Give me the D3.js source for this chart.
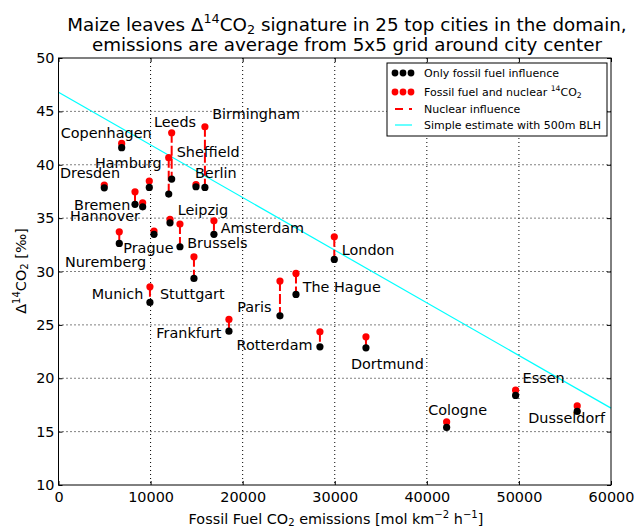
<!DOCTYPE html>
<html>
<head>
<meta charset="utf-8">
<script src="https://cdn.jsdelivr.net/npm/d3@7"></script>
<style>
  body { margin: 0; background: #fff; }
  text { font-family: "DejaVu Sans", "Bitstream Vera Sans", sans-serif; fill: #000; }
</style>
</head>
<body>
<svg id="chart" width="638" height="530"></svg>
<script>
// City list and Δ14CO2 values (‰) at the mean fossil-fuel CO2 emission (mol km-2 h-1)
const cities = ["Copenhagen", "Leeds", "Birmingham", "Sheffield", "Hamburg", "Berlin",
  "Dresden", "Bremen", "Hannover", "Leipzig", "Amsterdam", "Brussels", "Prague",
  "Nuremberg", "Munich", "Stuttgart", "Paris", "The Hague", "London", "Frankfurt",
  "Rotterdam", "Dortmund", "Essen", "Cologne", "Dusseldorf"];
const emissions = [6860, 12290, 15900, 11970, 9860, 14930, 4970, 8310, 9140, 12110,
  16880, 13190, 6600, 10370, 9930, 14710, 24050, 25790, 29950, 18510, 28390, 33390,
  49640, 42150, 56330];
const fossilOnly = [41.60, 38.66, 37.88, 37.25, 37.88, 37.94, 37.84, 36.29, 36.06, 34.56,
  33.48, 32.32, 32.63, 33.48, 27.10, 29.35, 25.85, 27.85, 31.13, 24.41, 22.94, 22.85,
  18.39, 15.39, 16.89];
const fossilNuclear = [42.00, 43.00, 43.56, 40.66, 38.47, 38.14, 38.10, 37.47, 36.44, 34.88,
  34.75, 34.44, 33.72, 33.79, 28.57, 31.38, 29.10, 29.82, 33.25, 25.51, 24.35, 23.88,
  18.88, 15.91, 17.41];

// Simple estimate with 500 m boundary layer height (straight line)
const estimateX = [0, 60000];
const estimateY = [46.8, 17.2];

const xTicks = [0, 10000, 20000, 30000, 40000, 50000, 60000];
const yTicks = [10, 15, 20, 25, 30, 35, 40, 45, 50];

// Label placement: left edge / baseline offset in px from each black marker
const labelOffsets = [[-61, -10], [-17.7, -52.5], [7.3, -68], [8, -36.7], [-54.3, -19.3],
  [-1, -8.7], [-44.3, -9.4], [-61, 5.7], [-72.7, 14.3], [7.7, -7.7], [6.7, -1], [7.3, 1],
  [4, 10], [-89, 32.4], [-58.3, -3], [-34, 21], [-42.7, -4], [6.7, -2.6], [7.4, -4.3],
  [-72.6, 7], [-83.3, 3], [-15, 21.5], [7, -12], [-18.4, -12.3], [-49, 12]];

const svg = d3.select("#chart");
const plotLeft = 58.5, plotRight = 611, plotTop = 58, plotBottom = 485;

const x = d3.scaleLinear().domain([0, 60000]).range([plotLeft, plotRight]);
const y = d3.scaleLinear().domain([10, 50]).range([plotBottom, plotTop]);

const tickFont = 14.4;

// dotted grid
const grid = svg.append("g");
grid.selectAll("line.gx").data(xTicks.slice(1, -1)).join("line")
  .attr("x1", d => x(d)).attr("x2", d => x(d)).attr("y1", plotTop).attr("y2", plotBottom)
  .attr("stroke", "#000").attr("stroke-width", 1).attr("stroke-dasharray", "1,3");
grid.selectAll("line.gy").data(yTicks.slice(1, -1)).join("line")
  .attr("y1", d => y(d)).attr("y2", d => y(d)).attr("x1", plotLeft).attr("x2", plotRight)
  .attr("stroke", "#000").attr("stroke-width", 1).attr("stroke-dasharray", "1,3");

// axes with inward ticks on all four sides
function styleAxis(g) {
  g.select(".domain").remove();
  g.selectAll("text").attr("font-size", tickFont).attr("font-family", "DejaVu Sans");
  g.selectAll(".tick line").attr("stroke", "#000");
}
svg.append("g").attr("transform", `translate(0,${plotBottom})`)
  .call(d3.axisBottom(x).tickValues(xTicks).tickFormat(d3.format("d"))
    .tickSizeInner(-4).tickSizeOuter(0).tickPadding(7))
  .call(styleAxis);
svg.append("g").attr("transform", `translate(0,${plotTop})`)
  .call(d3.axisTop(x).tickValues(xTicks).tickFormat("").tickSizeInner(-4).tickSizeOuter(0))
  .call(styleAxis);
svg.append("g").attr("transform", `translate(${plotLeft},0)`)
  .call(d3.axisLeft(y).tickValues(yTicks).tickFormat(d3.format("d"))
    .tickSizeInner(-4).tickSizeOuter(0).tickPadding(4))
  .call(styleAxis);
svg.append("g").attr("transform", `translate(${plotRight},0)`)
  .call(d3.axisRight(y).tickValues(yTicks).tickFormat("").tickSizeInner(-4).tickSizeOuter(0))
  .call(styleAxis);

// estimate line
svg.append("line")
  .attr("x1", x(estimateX[0])).attr("y1", y(estimateY[0]))
  .attr("x2", x(estimateX[1])).attr("y2", y(estimateY[1]))
  .attr("stroke", "#00FFFF").attr("stroke-width", 1.2);

const idx = d3.range(cities.length);

// nuclear contribution: dashed red segment from nuclear-influenced value down to fossil-only
svg.append("g").selectAll("line").data(idx).join("line")
  .attr("x1", i => x(emissions[i])).attr("x2", i => x(emissions[i]))
  .attr("y1", i => y(fossilNuclear[i])).attr("y2", i => y(fossilOnly[i]))
  .attr("stroke", "#ff0000").attr("stroke-width", 2).attr("stroke-dasharray", "10,3");

svg.append("g").selectAll("circle").data(idx).join("circle")
  .attr("cx", i => x(emissions[i])).attr("cy", i => y(fossilNuclear[i]))
  .attr("r", 3.6).attr("fill", "#ff0000");
svg.append("g").selectAll("circle").data(idx).join("circle")
  .attr("cx", i => x(emissions[i])).attr("cy", i => y(fossilOnly[i]))
  .attr("r", 3.6).attr("fill", "#000");

// frame
svg.append("rect").attr("x", plotLeft).attr("y", plotTop)
  .attr("width", plotRight - plotLeft).attr("height", plotBottom - plotTop)
  .attr("fill", "none").attr("stroke", "#000").attr("stroke-width", 1);

// city labels
svg.append("g").selectAll("text").data(idx).join("text")
  .attr("x", i => x(emissions[i]) + labelOffsets[i][0])
  .attr("y", i => y(fossilOnly[i]) + labelOffsets[i][1])
  .attr("font-size", 14.4)
  .text(i => cities[i]);

// helper for text with super/subscripts: parts = [[text, kind]]
function richText(sel, parts, size) {
  parts.forEach(([t, kind]) => {
    const ts = sel.append("tspan").text(t);
    if (kind === "sup") ts.attr("font-size", size * 0.7).attr("baseline-shift", size * 0.42 + "px");
    else if (kind === "sub") ts.attr("font-size", size * 0.7).attr("baseline-shift", -size * 0.15 + "px");
  });
  return sel;
}

// title
const titleSize = 18.3;
richText(svg.append("text").attr("x", 347).attr("y", 31).attr("text-anchor", "middle")
  .attr("font-size", titleSize),
  [["Maize leaves Δ", ""], ["14", "sup"], ["CO", ""], ["2", "sub"],
   [" signature in 25 top cities in the domain,", ""]], titleSize);
svg.append("text").attr("x", 347).attr("y", 51).attr("text-anchor", "middle")
  .attr("font-size", titleSize)
  .text("emissions are average from 5x5 grid around city center");

// axis titles
richText(svg.append("text").attr("x", 336).attr("y", 524).attr("text-anchor", "middle")
  .attr("font-size", 14.4),
  [["Fossil Fuel CO", ""], ["2", "sub"], [" emissions [mol km", ""], ["−2", "sup"],
   [" h", ""], ["−1", "sup"], ["]", ""]], 14.4);
richText(svg.append("text").attr("transform", "translate(26,271) rotate(-90)")
  .attr("text-anchor", "middle").attr("font-size", 14.4),
  [["Δ", ""], ["14", "sup"], ["CO", ""], ["2", "sub"], [" [‰]", ""]], 14.4);

// legend
const lg = svg.append("g");
lg.append("rect").attr("x", 387).attr("y", 63).attr("width", 220).attr("height", 73)
  .attr("fill", "#fff").attr("stroke", "#000").attr("stroke-width", 1);
const rows = [73, 92, 109, 125];
const legFont = 11;
[0, 1, 2].forEach(k => {
  lg.append("circle").attr("cx", 395 + k * 8).attr("cy", rows[0]).attr("r", 3.4).attr("fill", "#000");
  lg.append("circle").attr("cx", 395 + k * 8).attr("cy", rows[1]).attr("r", 3.4).attr("fill", "#ff0000");
});
lg.append("line").attr("x1", 395).attr("x2", 412).attr("y1", rows[2]).attr("y2", rows[2])
  .attr("stroke", "#ff0000").attr("stroke-width", 2).attr("stroke-dasharray", "8,6");
lg.append("line").attr("x1", 395).attr("x2", 412).attr("y1", rows[3]).attr("y2", rows[3])
  .attr("stroke", "#00FFFF").attr("stroke-width", 1.2);
lg.append("text").attr("x", 424).attr("y", rows[0] + 4).attr("font-size", legFont)
  .text("Only fossil fuel influence");
richText(lg.append("text").attr("x", 424).attr("y", rows[1] + 4).attr("font-size", legFont),
  [["Fossil fuel and nuclear ", ""], ["14", "sup"], ["CO", ""], ["2", "sub"]], legFont);
lg.append("text").attr("x", 424).attr("y", rows[2] + 4).attr("font-size", legFont)
  .text("Nuclear influence");
lg.append("text").attr("x", 424).attr("y", rows[3] + 4).attr("font-size", legFont)
  .text("Simple estimate with 500m BLH");
</script>
</body>
</html>
